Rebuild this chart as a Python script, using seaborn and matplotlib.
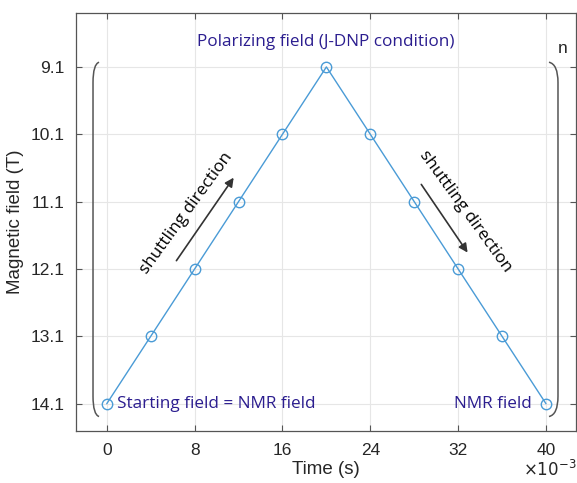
import numpy as np
import pandas as pd
import matplotlib
matplotlib.use('Agg')
import matplotlib.pyplot as plt
from matplotlib.path import Path
from matplotlib.patches import PathPatch
import seaborn as sns

# data (time in units of 1e-3 s)
time_ms = [0, 4, 8, 12, 16, 20, 24, 28, 32, 36, 40]
field_T = [14.1, 13.1, 12.1, 11.1, 10.1, 9.1, 10.1, 11.1, 12.1, 13.1, 14.1]
x_ticks = [0, 8, 16, 24, 32, 40]
y_ticks = [9.1, 10.1, 11.1, 12.1, 13.1, 14.1]

line_color = '#4A9BD6'
note_color = '#2B1D8F'
axis_grey = '#555555'

sns.set_theme(style="ticks")
plt.rcParams['font.family'] = ['Liberation Sans', 'DejaVu Sans']

df = pd.DataFrame({'time': time_ms, 'field': field_T})

fig = plt.figure(figsize=(5.77, 4.83), dpi=100)
ax = fig.add_axes([0.1317, 0.1083, 0.866, 0.8647])

sns.lineplot(data=df, x='time', y='field', ax=ax, color=line_color, lw=1.0,
             marker='o', markersize=7.5, markerfacecolor='none',
             markeredgecolor=line_color, markeredgewidth=1.0)

ax.set_xlim(-2.8, 42.7)
ax.set_ylim(14.5, 8.3)
ax.set_xticks(x_ticks)
ax.set_yticks(y_ticks)
ax.set_yticklabels([f'{v:.1f}' for v in y_ticks])
ax.grid(True, color='#e6e6e6', lw=0.8)
ax.set_axisbelow(True)
ax.tick_params(direction='in', length=4, width=0.8, colors=axis_grey,
               labelcolor='#262626', labelsize=12.5, top=True, right=True)
ax.tick_params(axis='x', pad=9)
ax.tick_params(axis='y', pad=8)
for s in ax.spines.values():
    s.set_color(axis_grey)
    s.set_linewidth(0.9)

ax.set_xlabel('Time (s)', fontsize=13.5, color='#262626', labelpad=2)
ax.set_ylabel('Magnetic field (T)', fontsize=13.5, color='#262626', labelpad=5)
fig.text(0.999, 0.008, r'$\times 10^{-3}$', fontsize=12, color='#262626',
         ha='right', va='bottom')

# annotations
nfont = ['Open Sans', 'DejaVu Sans']
ax.text(19.9, 8.73, 'Polarizing field (J-DNP condition)', color=note_color,
        fontsize=12.3, ha='center', va='center', family=nfont)
ax.text(0.9, 14.1, 'Starting field = NMR field', color=note_color,
        fontsize=12.3, ha='left', va='center', family=nfont)
ax.text(38.7, 14.1, 'NMR field', color=note_color,
        fontsize=12.3, ha='right', va='center', family=nfont)
ax.text(41.5, 8.82, 'n', color='#262626', fontsize=12.5, ha='center', va='center')

ax.text(7.3, 11.27, 'shuttling direction', rotation=54, color='black',
        fontsize=12.3, ha='center', va='center', family=nfont)
ax.text(32.7, 11.25, 'shuttling direction', rotation=-54, color='black',
        fontsize=12.3, ha='center', va='center', family=nfont)
arrow = dict(arrowstyle='-|>', color='#333333', lw=1.2, mutation_scale=13)
ax.annotate('', xy=(11.7, 10.71), xytext=(6.2, 12.01), arrowprops=arrow)
ax.annotate('', xy=(33.0, 11.89), xytext=(28.5, 10.81), arrowprops=arrow)

# brackets around the cycle
def bracket(x_end, x_mid, y_top, y_bot):
    verts = [(x_end, y_top), (x_mid, y_top + 0.03), (x_mid, y_top + 0.3),
             (x_mid, y_bot - 0.3), (x_mid, y_bot - 0.03), (x_end, y_bot)]
    codes = [Path.MOVETO, Path.CURVE3, Path.CURVE3,
             Path.LINETO, Path.CURVE3, Path.CURVE3]
    return PathPatch(Path(verts, codes), fill=False, edgecolor='#555555', lw=1.1)

ax.add_patch(bracket(-0.7, -1.25, 9.03, 14.29))
ax.add_patch(bracket(40.27, 41.09, 9.03, 14.29))

fig.savefig('out.png', dpi=100)
